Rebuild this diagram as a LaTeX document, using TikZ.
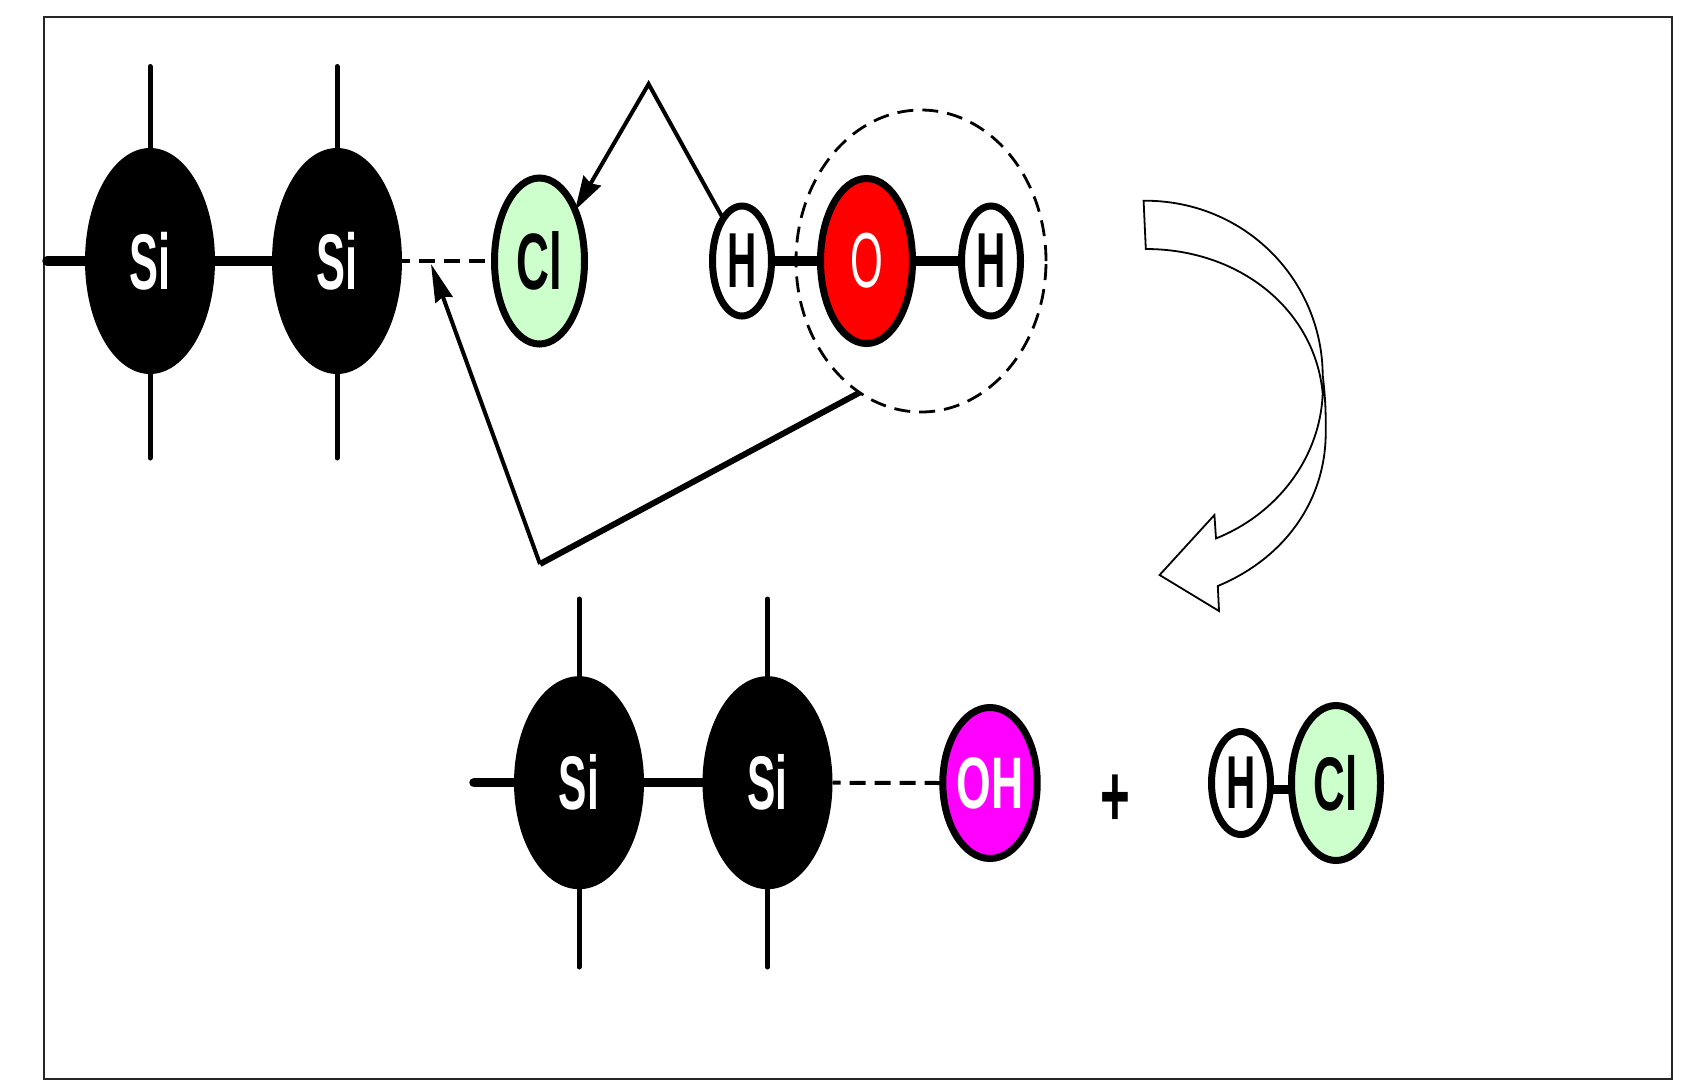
\documentclass[tikz,border=0pt]{standalone}
\usepackage{graphicx}
\usepackage{fontspec}
\setmainfont{Liberation Sans}
\usetikzlibrary{shapes.geometric,arrows.meta}
\definecolor{clgreen}{HTML}{CCFFCC}
\definecolor{ohmag}{HTML}{FF00FF}
\definecolor{ored}{HTML}{FF0000}
\newcommand{\atomtext}[4][\bfseries]{\scalebox{#2}[1]{\fontsize{#3}{#3}\selectfont #1{}#4}}
\tikzset{
  atom/.style={ellipse,inner sep=0pt,outer sep=0pt,align=center},
  siatom/.style={atom,fill=black,text=white,minimum width=130pt,minimum height=226pt},
  siatomlow/.style={atom,fill=black,text=white,minimum width=130pt,minimum height=213pt},
  clatom/.style={atom,draw=black,line width=7pt,fill=clgreen,minimum width=90pt,minimum height=166pt},
  hatom/.style={atom,draw=black,line width=7pt,fill=white,minimum width=59pt,minimum height=110pt},
  oatom/.style={atom,draw=black,line width=7pt,fill=ored,text=white,minimum width=92pt,minimum height=165pt},
  ohatom/.style={atom,draw=black,line width=7pt,fill=ohmag,text=white,minimum width=90pt,minimum height=151pt},
  bond/.style={line width=9.5pt,line cap=round},
  stick/.style={line width=5pt,line cap=round},
  weak/.style={line width=4pt,dash pattern=on 16pt off 9pt,dash phase=8pt},
  halo/.style={ellipse,draw=black,line width=2.8pt,dash pattern=on 16pt off 9pt,minimum width=250pt,minimum height=302pt,inner sep=0pt,outer sep=0pt},
  attack/.style={line width=4pt,line join=miter},
  blockarrow/.style={draw=black,line width=1.8pt,fill=white,line join=miter},
  frameline/.style={draw=black!85,line width=2pt}
}
\begin{document}
\begin{tikzpicture}[x=1pt,y=-1pt]
\useasboundingbox (0,0) rectangle (1688,1080);
\draw[frameline] (44,17) rectangle (1672,1079);

% upper molecule
\node[halo] (halo) at (921,261) {};
\node[siatom] (si1) at (150,261) {\atomtext{0.55}{79}{Si}};
\node[siatom] (si2) at (337,261) {\atomtext{0.55}{79}{Si}};
\node[clatom] (cl1) at (539.5,261) {\atomtext{0.57}{80}{Cl}};
\node[hatom] (h1) at (742,261) {\atomtext{0.52}{78}{H}};
\node[oatom] (o1) at (866.5,261) {\atomtext[]{0.54}{78}{O}};
\node[hatom] (h2) at (991,261) {\atomtext{0.52}{78}{H}};

\coordinate (stubA) at (47,261);
\coordinate (t1) at (150,66.5);
\coordinate (b1) at (150,458);
\coordinate (t2) at (337,66.5);
\coordinate (b2) at (337,458);
\coordinate (peak) at (648.6,84);
\coordinate (corner) at (540,564);
\coordinate (tipa) at (431,264);

\draw[bond] (stubA) -- (si1.west);
\draw[bond,line cap=butt] (si1.east) -- (si2.west);
\draw[stick] (si1.north) -- (t1);
\draw[stick] (si1.south) -- (b1);
\draw[stick] (si2.north) -- (t2);
\draw[stick] (si2.south) -- (b2);
\draw[weak] (si2.east) -- (cl1.west);
\draw[bond,line cap=butt] (h1.east) -- (o1.west);
\draw[bond,line cap=butt] (o1.east) -- (h2.west);

\draw[attack,-{Stealth[length=34pt,width=20pt,inset=3pt]}] (h1.114) -- (peak) -- (cl1.55);
\draw[line width=6pt] (halo.245) -- (corner);
\draw[attack,-{Stealth[length=38pt,width=18pt,inset=3pt]}] (corner) -- (tipa);

% block arrow
\draw[blockarrow] (1143.6,200.7)
  .. controls (1245,200) and (1322,280) .. (1322.7,375)
  .. controls (1325,395) and (1326,410) .. (1325.7,432)
  .. controls (1326,500) and (1285,558) .. (1217.8,586)
  -- (1219,611) -- (1159.6,575) -- (1214.4,515) -- (1216,538.4)
  .. controls (1275,515) and (1320,460) .. (1322.7,393.5)
  .. controls (1315,310) and (1240,249) .. (1145.8,249) -- cycle;

% lower molecule
\node[siatomlow] (si3) at (579,782.7) {\atomtext{0.56}{76}{Si}};
\node[siatomlow] (si4) at (767.5,782.7) {\atomtext{0.56}{76}{Si}};
\node[ohatom] (oh) at (990,783) {\atomtext{0.61}{73}{OH}};
\node (plus) at (1115,801) {\atomtext{0.58}{88}{+}};
\node[hatom,minimum width=59pt,minimum height=103pt] (h3) at (1241,783) {\atomtext{0.54}{75}{H}};
\node[clatom,minimum width=89pt,minimum height=155pt] (cl2) at (1336,783) {\atomtext{0.58}{76}{Cl}};

\coordinate (stubB) at (474,782.7);
\coordinate (t3) at (579,599);
\coordinate (b3) at (579,967);
\coordinate (t4) at (767.5,599);
\coordinate (b4) at (767.5,967);

\draw[bond] (stubB) -- (si3.west);
\draw[bond,line cap=butt] (si3.east) -- (si4.west);
\draw[stick] (si3.north) -- (t3);
\draw[stick] (si3.south) -- (b3);
\draw[stick] (si4.north) -- (t4);
\draw[stick] (si4.south) -- (b4);
\draw[weak] (si4.east) -- (oh.west);
\path (h3.east) ++(-2,6.5) coordinate (hcl);
\draw[line width=8.5pt] (hcl) -- (hcl -| cl2.west);
\end{tikzpicture}
\end{document}
